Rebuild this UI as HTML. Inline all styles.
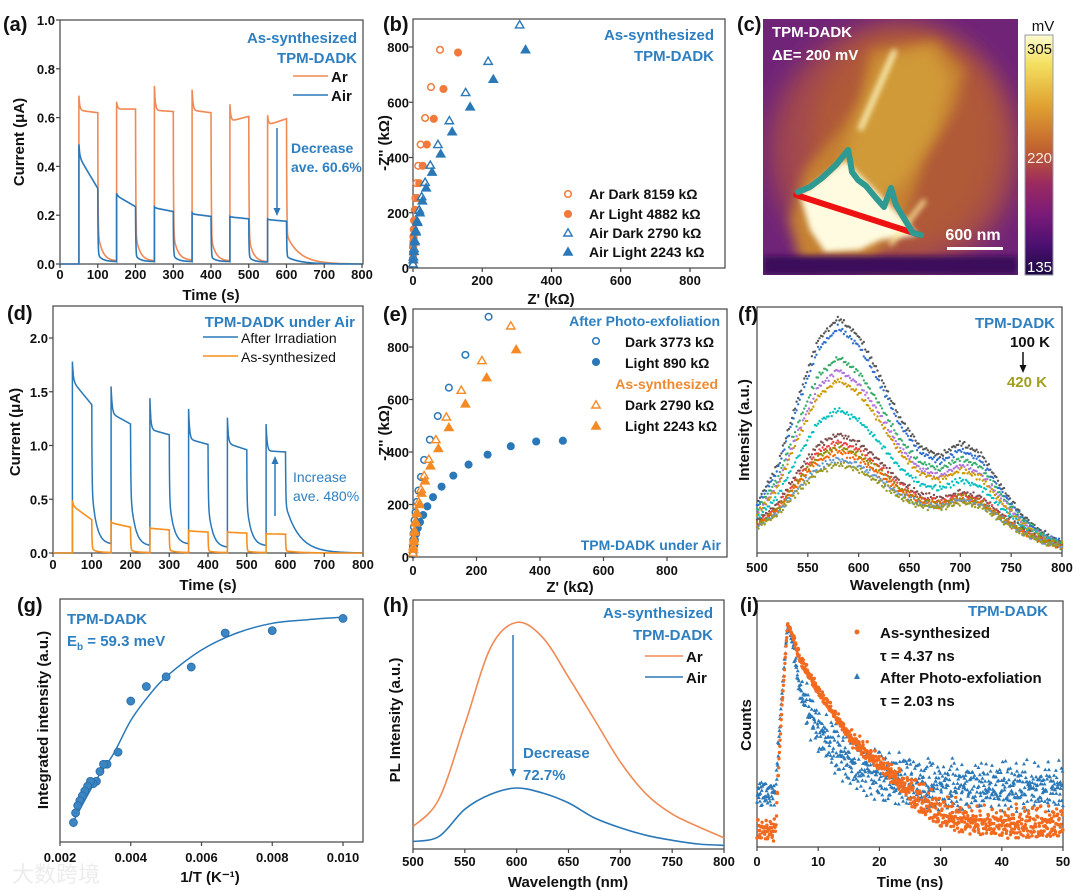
<!DOCTYPE html>
<html><head><meta charset="utf-8"><title>TPM-DADK figure</title>
<style>
html,body{margin:0;padding:0;background:#fff;}
svg{display:block;font-family:"Liberation Sans","Noto Sans CJK SC",sans-serif;font-weight:bold;}
</style></head>
<body>
<svg id="fig" width="1080" height="891" viewBox="0 0 1080 891" xmlns="http://www.w3.org/2000/svg">
<defs>
<linearGradient id="cbar" x1="0" y1="0" x2="0" y2="1">
<stop offset="0" stop-color="#fcfcd0"/><stop offset="0.12" stop-color="#f3e060"/><stop offset="0.3" stop-color="#dfa030"/><stop offset="0.48" stop-color="#c06030"/><stop offset="0.62" stop-color="#9a2a60"/><stop offset="0.75" stop-color="#7a1a78"/><stop offset="0.88" stop-color="#4a1070"/><stop offset="1" stop-color="#1a0840"/>
</linearGradient>
<filter id="blur6" x="-30%" y="-30%" width="160%" height="160%"><feGaussianBlur stdDeviation="6"/></filter>
<filter id="blur12" x="-40%" y="-40%" width="180%" height="180%"><feGaussianBlur stdDeviation="12"/></filter>
<filter id="blur3" x="-30%" y="-30%" width="160%" height="160%"><feGaussianBlur stdDeviation="3"/></filter>
<clipPath id="cimg"><rect x="763" y="19" width="255" height="256"/></clipPath>
</defs>
</svg>
<script>
// ---------- DATA ----------
// (a) photocurrent, as-synthesized
const aOnTimes=[50,150,250,350,450,550];
const aArPeak=[0.69,0.665,0.73,0.715,0.655,0.61];
const aArStart=[0.63,0.635,0.63,0.63,0.585,0.57];
const aArEnd=[0.62,0.635,0.625,0.62,0.605,0.595];
const aArDrop=[0.13,0.12,0.12,0.11,0.11,0.12];
const aArTail=[0.012,0.012,0.015,0.012,0.008,0.0];
const aAirPeak=[0.49,0.29,0.235,0.21,0.195,0.185];
const aAirStart=[0.44,0.28,0.23,0.205,0.193,0.182];
const aAirEnd=[0.31,0.235,0.215,0.195,0.185,0.175];
const aAirDrop=[0.04,0.035,0.035,0.03,0.03,0.03];
const aAirTail=[0.01,0.01,0.01,0.01,0.008,0.0];
const aXTicks=[0,100,200,300,400,500,600,700,800];
const aYTicks=[0,0.2,0.4,0.6,0.8,1.0];
// (d) photocurrent under air
const dOnTimes=[50,150,250,350,450,550];
const dIrrPeak=[1.78,1.55,1.44,1.34,1.26,1.2];
const dIrrStart=[1.6,1.3,1.15,1.06,1.02,0.95];
const dIrrEnd=[1.38,1.2,1.1,1.01,0.96,0.94];
const dIrrDrop=[0.6,0.55,0.5,0.45,0.45,0.45];
const dIrrTail=[0.08,0.065,0.08,0.05,0.065,0.0];
const dAsPeak=[0.49,0.29,0.235,0.21,0.195,0.18];
const dAsStart=[0.44,0.28,0.23,0.205,0.193,0.178];
const dAsEnd=[0.31,0.24,0.215,0.195,0.185,0.175];
const dAsDrop=[0.04,0.03,0.03,0.02,0.02,0.02];
const dAsTail=[0.005,0.005,0.005,0.005,0.005,0.0];
const dXTicks=[0,100,200,300,400,500,600,700,800];
const dYTicks=[0,0.5,1.0,1.5,2.0];
// (b) Nyquist as-synthesized
const bArDarkX=[78,52,35,22,15,10,7,5,3,2,1,1,0,0,0,0];
const bArDarkY=[790,655,543,447,370,307,253,210,172,140,115,95,75,55,35,15];
const bArLightX=[130,88,60,40,28,18,12,8,5,3,2,1,1,0];
const bArLightY=[780,648,540,447,370,307,253,210,172,140,110,80,50,20];
const bAirDarkX=[308,217,152,105,72,50,35,25,18,12,8,5,3,1,0];
const bAirDarkY=[880,748,635,533,447,372,310,258,210,170,135,100,70,40,15];
const bAirLightX=[325,232,165,113,80,55,38,27,20,13,8,5,3,1];
const bAirLightY=[790,683,583,493,413,347,290,243,200,165,130,95,60,30];
const zTicks=[0,200,400,600,800];
// (e) Nyquist under air
const ePhDarkX=[238,165,113,78,53,35,25,17,12,8,5,3,2,1,0,0];
const ePhDarkY=[915,770,645,537,447,370,305,253,210,170,140,115,90,65,40,15];
const ePhLightX=[472,388,308,235,175,127,90,63,45,32,22,15,10,6,4,2,1];
const ePhLightY=[443,440,422,390,352,310,268,228,193,160,133,110,88,65,45,25,10];
// (f) temperature-dependent PL
const fKnotsNm=[500,520,540,560,580,600,620,640,660,680,700,720,740,760,780,800];
const fShapeMain=[0.12,0.3,0.62,0.9,1.0,0.9,0.7,0.45,0.25,0.12,0.06,0.03,0.01,0,0,0];
const fShapeSide=[0,0,0,0,0.02,0.05,0.1,0.2,0.35,0.55,0.85,0.8,0.5,0.25,0.1,0.04];
const fShapeBase=[1,1,1,1,1,1,1,1,1,1,1,1,0.9,0.7,0.5,0.3];
const fMainAmp=[0.85,0.82,0.70,0.66,0.62,0.50,0.40,0.38,0.36,0.34,0.31,0.29];
const fSideAmp=[0.35,0.33,0.30,0.28,0.26,0.22,0.17,0.17,0.16,0.15,0.15,0.14];
const fBaseAmp=[0.10,0.09,0.09,0.08,0.08,0.08,0.08,0.07,0.07,0.07,0.07,0.07];
const fXTicks=[500,550,600,650,700,750,800];
// (g) integrated intensity vs 1/T
const gInvT=[0.0100,0.0080,0.00667,0.00571,0.00500,0.00444,0.00400,0.00364,0.00333,0.00323,0.00313,0.00303,0.00294,0.00286,0.00278,0.00270,0.00263,0.00256,0.00250,0.00244,0.00238];
const gIntensity=[0.92,0.87,0.86,0.72,0.68,0.64,0.58,0.37,0.32,0.32,0.29,0.25,0.24,0.25,0.23,0.21,0.19,0.17,0.15,0.12,0.08];
const gFitX=[0.0024,0.003,0.0035,0.004,0.0045,0.005,0.006,0.007,0.008,0.009,0.010];
const gFitY=[0.09,0.25,0.36,0.5,0.6,0.68,0.79,0.86,0.9,0.915,0.925];
const gXTicks=[0.002,0.004,0.006,0.008,0.010];
// (h) PL spectra
const hNm=[500,525,550,575,600,625,650,675,700,725,750,775,800];
const hAr=[0.09,0.2,0.5,0.81,0.91,0.85,0.69,0.52,0.35,0.22,0.14,0.09,0.045];
const hAir=[0.03,0.05,0.16,0.22,0.245,0.225,0.185,0.125,0.085,0.055,0.035,0.02,0.015];
const hXTicks=[500,550,600,650,700,750,800];
// (i) TRPL
const iTimeKnots=[0,3,4,5,6,7,10,15,20,25,30,35,40,50];
const iAsSynth=[0.08,0.08,0.54,0.91,0.85,0.77,0.64,0.46,0.35,0.24,0.15,0.12,0.11,0.11];
const iExfol=[0.22,0.22,0.6,0.91,0.81,0.64,0.48,0.35,0.29,0.27,0.25,0.25,0.25,0.25];
const iXTicks=[0,10,20,30,40,50];
const iJitter=[0.3,-0.7,0.9,-0.2,-0.95,0.55,0.1,-0.45,0.8,-0.85,0.25,0.65,-0.35,-0.6,0.95,-0.1,0.45,-0.75,0.05,0.7,-0.5,0.35,-0.25,0.85,-0.9,0.15,-0.3,0.6,-0.05,0.4,-0.8,0.2,0.75];
const iJitter2=[-0.4,0.8,0.1,-0.9,0.5,-0.2,0.95,-0.65,0.3,-0.1,0.7,-0.8,0.2,0.45,-0.55,0.05,-0.3,0.9,-0.7,0.6,-0.15,0.35,-0.95,0.15,0.65,-0.45,0.0,0.85,-0.25];

// ---------- HELPERS ----------
const NS='http://www.w3.org/2000/svg';
const svg=document.getElementById('fig');
const BLUE='#2e7fc0', ORANGE='#f07a3a', AIRLINE='#2a78b8', ARLINE='#f08a55', ORTXT='#f08a30';
function el(tag,attrs,name,parent){
  const e=document.createElementNS(NS,tag);
  for(const k in attrs) e.setAttribute(k,attrs[k]);
  
  
  (parent||svg).appendChild(e);
  return e;
}
function txt(x,y,s,name,opt){
  opt=opt||{};
  const e=el('text',{x:x,y:y,'font-size':opt.size||14,fill:opt.fill||'#111','text-anchor':opt.anchor||'start'},name,opt.parent);
  if(opt.rot) e.setAttribute('transform','rotate(-90 '+x+' '+y+')');
  if(opt.weight) e.setAttribute('font-weight',opt.weight);
  e.textContent=s;
  return e;
}
function frame(x0,y0,x1,y1,name){
  el('rect',{x:x0,y:y0,width:x1-x0,height:y1-y0,fill:'none',stroke:'#444','stroke-width':1.2},name);
}
function xTicks(ticks,sx,yb,labY,fmt,name){
  ticks.forEach(t=>{
    el('line',{x1:sx(t),x2:sx(t),y1:yb,y2:yb+4,stroke:'#444','stroke-width':1.2},name+'-tick');
    txt(sx(t),labY,fmt?fmt(t):String(t),name+'-label',{anchor:'middle',size:13});
  });
}
function yTicks(ticks,sy,xl,labX,fmt,name){
  ticks.forEach(t=>{
    el('line',{x1:xl-4,x2:xl,y1:sy(t),y2:sy(t),stroke:'#444','stroke-width':1.2},name+'-tick');
    txt(labX,sy(t)+5,fmt?fmt(t):String(t),name+'-label',{anchor:'end',size:13});
  });
}
function interp(xs,ys,x){
  if(x<=xs[0]) return ys[0];
  for(let i=1;i<xs.length;i++){ if(x<=xs[i]){ const f=(x-xs[i-1])/(xs[i]-xs[i-1]); return ys[i-1]+f*(ys[i]-ys[i-1]); } }
  return ys[ys.length-1];
}
function jit(k){ return 0.6*iJitter[k%iJitter.length]+0.6*iJitter2[(k*5+1)%iJitter2.length]; }
function smoothPath(pts){
  let d='M'+pts[0][0].toFixed(1)+','+pts[0][1].toFixed(1);
  for(let i=0;i<pts.length-1;i++){
    const p0=pts[i-1]||pts[i],p1=pts[i],p2=pts[i+1],p3=pts[i+2]||p2;
    const c1=[p1[0]+(p2[0]-p0[0])/6,p1[1]+(p2[1]-p0[1])/6],c2=[p2[0]-(p3[0]-p1[0])/6,p2[1]-(p3[1]-p1[1])/6];
    d+='C'+c1[0].toFixed(1)+','+c1[1].toFixed(1)+' '+c2[0].toFixed(1)+','+c2[1].toFixed(1)+' '+p2[0].toFixed(1)+','+p2[1].toFixed(1);
  }
  return d;
}
function photoValue(t,on,peak,start,end,drop,tail){
  let i=-1;
  for(let k=0;k<on.length;k++) if(t>=on[k]) i=k;
  if(i<0) return 0;
  const dt=t-on[i];
  if(dt<50) return start+(end-start)*dt/50+(peak-start)*Math.exp(-dt/2.5);
  const od=dt-50;
  const tau=(i===on.length-1)?35:12;
  return tail[i]+(end[i]-drop[i])*Math.exp(-od/0.8)+(drop[i]-tail[i])*Math.exp(-od/tau);
}
function photoPath(on,peak,start,end,drop,tail,sx,sy){
  let d='';
  for(let t=0;t<=800;t+=0.5){
    let i=-1; for(let k=0;k<on.length;k++) if(t>=on[k]) i=k;
    let v;
    if(i>=0 && t-on[i]<50) v=photoValue(t,on,peak[i],start[i],end[i],drop,tail);
    else v=photoValue(t,on,0,0,end,drop,tail);
    if(i>=0 && t===on[i]) d+='L'+sx(t).toFixed(1)+','+sy(i>0?tail[i-1]:0).toFixed(1);
    d+=(d?'L':'M')+sx(t).toFixed(1)+','+sy(v).toFixed(1);
  }
  return d;
}
function marker(type,x,y,color,filled,name){
  if(type==='c') el('circle',{cx:x,cy:y,r:3.3,fill:filled?color:'#fff',stroke:color,'stroke-width':1.5},name);
  else el('polygon',{points:(x)+','+(y-4.2)+' '+(x-4.2)+','+(y+3)+' '+(x+4.2)+','+(y+3),fill:filled?color:'#fff',stroke:color,'stroke-width':1.4},name);
}
function arrow(x,y1,y2,color,name){
  el('line',{x1:x,x2:x,y1:y1,y2:y2+(y2>y1?-6:6),stroke:color,'stroke-width':1.5},name);
  const s=y2>y1?-1:1;
  el('polygon',{points:x+','+y2+' '+(x-3.5)+','+(y2+s*8)+' '+(x+3.5)+','+(y2+s*8),fill:color},name+'-head');
}

// ---------- (a) ----------
(function(){
  const sx=t=>60+t*302/800, sy=v=>264-v*244;
  frame(60,20,363,264,'panel-a-frame');
  el('path',{d:photoPath(aOnTimes,aArPeak,aArStart,aArEnd,aArDrop,aArTail,sx,sy),fill:'none',stroke:ARLINE,'stroke-width':1.6},'ar-current-line');
  el('path',{d:photoPath(aOnTimes,aAirPeak,aAirStart,aAirEnd,aAirDrop,aAirTail,sx,sy),fill:'none',stroke:AIRLINE,'stroke-width':1.6},'air-current-line');
  xTicks(aXTicks,sx,264,279,null,'a-x');
  yTicks(aYTicks,sy,60,55,t=>t.toFixed(1),'a-y');
  txt(3,31,'(a)','panel-label-a',{size:20});
  txt(211,300,'Time (s)','a-x-title',{anchor:'middle',size:15});
  txt(24,142,'Current (μA)','a-y-title',{anchor:'middle',size:15,rot:true});
  txt(357,43,'As-synthesized','a-title-1',{anchor:'end',size:15,fill:BLUE});
  txt(357,63,'TPM-DADK','a-title-2',{anchor:'end',size:15,fill:BLUE});
  el('line',{x1:293,x2:328,y1:76,y2:76,stroke:ARLINE,'stroke-width':1.6},'legend-ar-line');
  txt(331,82,'Ar','legend-ar-text',{size:15});
  el('line',{x1:293,x2:328,y1:95,y2:95,stroke:AIRLINE,'stroke-width':1.6},'legend-air-line');
  txt(331,101,'Air','legend-air-text',{size:15});
  txt(291,153,'Decrease','a-annotation-1',{size:14,fill:BLUE});
  txt(291,172,'ave. 60.6%','a-annotation-2',{size:14,fill:BLUE});
  arrow(277,128,216,AIRLINE,'a-decrease-arrow');
})();

// ---------- (b) ----------
(function(){
  const sx=z=>413+z*277/800, sy=z=>268-z*221/800;
  frame(413,19,725,268,'panel-b-frame');
  bArDarkX.forEach((x,i)=>marker('c',sx(x),sy(bArDarkY[i]),ORANGE,false,'ar-dark-point'));
  bArLightX.forEach((x,i)=>marker('c',sx(x),sy(bArLightY[i]),ORANGE,true,'ar-light-point'));
  bAirDarkX.forEach((x,i)=>marker('t',sx(x),sy(bAirDarkY[i]),AIRLINE,false,'air-dark-point'));
  bAirLightX.forEach((x,i)=>marker('t',sx(x),sy(bAirLightY[i]),AIRLINE,true,'air-light-point'));
  xTicks(zTicks,sx,268,285,null,'b-x');
  yTicks(zTicks,sy,413,409,null,'b-y');
  txt(383,31,'(b)','panel-label-b',{size:20});
  txt(551,304,"Z' (kΩ)",'b-x-title',{anchor:'middle',size:15});
  txt(389,143,"-Z'' (kΩ)",'b-y-title',{anchor:'middle',size:15,rot:true});
  txt(714,40,'As-synthesized','b-title-1',{anchor:'end',size:15,fill:BLUE});
  txt(714,61,'TPM-DADK','b-title-2',{anchor:'end',size:15,fill:BLUE});
  const lg=[['c',ORANGE,false,'Ar Dark 8159 kΩ',199],['c',ORANGE,true,'Ar Light 4882 kΩ',219],['t',AIRLINE,false,'Air Dark 2790 kΩ',238],['t',AIRLINE,true,'Air Light 2243 kΩ',257]];
  lg.forEach(l=>{marker(l[0],568,l[4]-5,l[1],l[2],'b-legend-marker');txt(589,l[4],l[3],'b-legend-text',{size:14});});
})();

// ---------- (c) ----------
(function(){
  txt(737,31,'(c)','panel-label-c',{size:20});
  const g=el('g',{'clip-path':'url(#cimg)'},'kpfm-image');
  el('rect',{x:763,y:19,width:255,height:256,fill:'#702478'},'kpfm-background',g);
  el('ellipse',{cx:895,cy:150,rx:125,ry:125,fill:'#a04650',filter:'url(#blur12)'},'kpfm-halo',g);
  el('ellipse',{cx:905,cy:140,rx:95,ry:110,fill:'#b05a38',filter:'url(#blur12)'},'kpfm-halo-inner',g);
  el('polygon',{points:'870,50 935,40 965,70 955,110 925,160 915,190 900,230 870,260 800,262 790,220 805,170 840,130 860,100',fill:'#c68232',filter:'url(#blur6)'},'kpfm-flake',g);
  el('polygon',{points:'880,60 930,48 950,80 935,130 905,180 880,200 840,170 860,110',fill:'#d09a38',filter:'url(#blur6)'},'kpfm-flake-upper',g);
  el('polygon',{points:'800,195 845,160 880,195 905,220 918,235 880,240 860,250 825,252 810,230',fill:'#fffbe0',filter:'url(#blur3)'},'kpfm-bright-region',g);
  el('line',{x1:895,y1:50,x2:860,y2:130,stroke:'#fff6c0','stroke-width':5,filter:'url(#blur3)'},'kpfm-bright-edge',g);
  el('line',{x1:890,y1:245,x2:925,y2:200,stroke:'#fff0a0','stroke-width':4,filter:'url(#blur3)'},'kpfm-bright-edge-2',g);
  el('rect',{x:763,y:256,width:255,height:19,fill:'#3a0f5a',filter:'url(#blur3)'},'kpfm-bottom-band',g);
  el('line',{x1:796,y1:195,x2:920,y2:235,stroke:'#ee1111','stroke-width':6,'stroke-linecap':'round'},'line-profile-red',g);
  el('polyline',{points:'798,192 810,187 822,178 836,165 848,150 850,160 852,172 858,180 866,186 876,198 884,207 891,188 896,205 905,220 913,233 921,235',fill:'none',stroke:'#2e9a92','stroke-width':6,'stroke-linejoin':'round','stroke-linecap':'round'},'surface-profile-teal',g);
  txt(772,37,'TPM-DADK','c-title',{size:15,fill:'#fff'});
  txt(772,60,'ΔE= 200 mV','c-energy',{size:15,fill:'#fff'});
  txt(973,240,'600 nm','scale-bar-label',{size:16,fill:'#fff',anchor:'middle'});
  el('rect',{x:947,y:247,width:56,height:3,fill:'#fff'},'scale-bar');
  el('rect',{x:1025,y:35,width:28,height:240,fill:'url(#cbar)',stroke:'#99a','stroke-width':1},'colorbar');
  txt(1043,31,'mV','colorbar-unit',{size:15,anchor:'middle',weight:'normal'});
  txt(1027,54,'305','colorbar-max',{size:15,weight:'normal'});
  txt(1027,163,'220','colorbar-mid',{size:15,weight:'normal',fill:'#f4e8e0'});
  txt(1027,272,'135','colorbar-min',{size:15,weight:'normal',fill:'#fff'});
})();

// ---------- (d) ----------
(function(){
  const sx=t=>53+t*310/800, sy=v=>553-v*107.5;
  frame(53,306,363,553,'panel-d-frame');
  el('path',{d:photoPath(dOnTimes,dIrrPeak,dIrrStart,dIrrEnd,dIrrDrop,dIrrTail,sx,sy),fill:'none',stroke:AIRLINE,'stroke-width':1.5},'after-irradiation-line');
  el('path',{d:photoPath(dOnTimes,dAsPeak,dAsStart,dAsEnd,dAsDrop,dAsTail,sx,sy),fill:'none',stroke:'#f59020','stroke-width':1.6},'as-synthesized-line');
  xTicks(dXTicks,sx,553,569,null,'d-x');
  yTicks(dYTicks,sy,53,48,t=>t.toFixed(1),'d-y');
  txt(7,320,'(d)','panel-label-d',{size:20});
  txt(208,590,'Time (s)','d-x-title',{anchor:'middle',size:15});
  txt(20,432,'Current (μA)','d-y-title',{anchor:'middle',size:15,rot:true});
  txt(355,327,'TPM-DADK under Air','d-title',{anchor:'end',size:15,fill:BLUE});
  el('line',{x1:203,x2:238,y1:337,y2:337,stroke:AIRLINE,'stroke-width':1.6},'legend-irradiation-line');
  txt(241,343,'After Irradiation','legend-irradiation-text',{size:14,weight:'normal'});
  el('line',{x1:203,x2:238,y1:356,y2:356,stroke:'#f59020','stroke-width':1.6},'legend-as-synth-line');
  txt(241,362,'As-synthesized','legend-as-synth-text',{size:14,weight:'normal'});
  txt(293,482,'Increase','d-annotation-1',{size:14,fill:BLUE,weight:'normal'});
  txt(293,501,'ave. 480%','d-annotation-2',{size:14,fill:BLUE,weight:'normal'});
  arrow(275,516,456,AIRLINE,'d-increase-arrow');
})();

// ---------- (e) ----------
(function(){
  const sx=z=>413+z*254/800, sy=z=>557-z*210/800;
  frame(413,309,727,557,'panel-e-frame');
  ePhDarkX.forEach((x,i)=>marker('c',sx(x),sy(ePhDarkY[i]),AIRLINE,false,'exfol-dark-point'));
  ePhLightX.forEach((x,i)=>marker('c',sx(x),sy(ePhLightY[i]),AIRLINE,true,'exfol-light-point'));
  bAirDarkX.forEach((x,i)=>marker('t',sx(x),sy(bAirDarkY[i]),'#f58a25',false,'as-synth-dark-point'));
  bAirLightX.forEach((x,i)=>marker('t',sx(x),sy(bAirLightY[i]),'#f58a25',true,'as-synth-light-point'));
  xTicks(zTicks,sx,557,575,null,'e-x');
  yTicks(zTicks,sy,413,409,null,'e-y');
  txt(383,321,'(e)','panel-label-e',{size:20});
  txt(570,592,"Z' (kΩ)",'e-x-title',{anchor:'middle',size:15});
  txt(389,433,"-Z'' (kΩ)",'e-y-title',{anchor:'middle',size:15,rot:true});
  txt(720,326,'After Photo-exfoliation','e-legend-group-1',{anchor:'end',size:14,fill:BLUE});
  marker('c',596,341,AIRLINE,false,'e-legend-marker');
  txt(625,347,'Dark 3773 kΩ','e-legend-text',{size:14});
  marker('c',596,362,AIRLINE,true,'e-legend-marker');
  txt(625,368,'Light 890 kΩ','e-legend-text',{size:14});
  txt(718,389,'As-synthesized','e-legend-group-2',{anchor:'end',size:14,fill:ORTXT});
  marker('t',596,405,'#f58a25',false,'e-legend-marker');
  txt(625,410,'Dark 2790 kΩ','e-legend-text',{size:14});
  marker('t',596,426,'#f58a25',true,'e-legend-marker');
  txt(625,431,'Light 2243 kΩ','e-legend-text',{size:14});
  txt(721,550,'TPM-DADK under Air','e-title',{anchor:'end',size:14,fill:BLUE});
})();

// ---------- (f) ----------
(function(){
  const sx=w=>757+(w-500)*305/300, sy=v=>553-v*246;
  frame(757,307,1062,553,'panel-f-frame');
  const cols=['#555555','#2e6fd0','#37ad6b','#b177de','#cc9900','#00c0c0','#7d4e4e','#f14040','#8e8e00','#fb6501','#6699cc','#9a9a20'];
  fMainAmp.forEach((a,k)=>{
    const g=el('g',{fill:cols[k]},'pl-spectrum-'+k);
    let n=0;
    for(let w=500;w<=800;w+=1.5){
      const v=a*interp(fKnotsNm,fShapeMain,w)+fSideAmp[k]*interp(fKnotsNm,fShapeSide,w)+fBaseAmp[k]*interp(fKnotsNm,fShapeBase,w);
      el('circle',{cx:sx(w).toFixed(1),cy:(sy(v)+jit(n+k*17)*3).toFixed(1),r:1.2},'pl-point',g);
      n++;
    }
  });
  xTicks(fXTicks,sx,553,572,null,'f-x');
  txt(738,321,'(f)','panel-label-f',{size:20});
  txt(910,590,'Wavelength (nm)','f-x-title',{anchor:'middle',size:15});
  txt(749,430,'Intensity (a.u.)','f-y-title',{anchor:'middle',size:15,rot:true});
  txt(1055,328,'TPM-DADK','f-title',{anchor:'end',size:15,fill:BLUE});
  txt(1050,347,'100 K','f-temp-high',{anchor:'end',size:15});
  arrow(1023,352,373,'#111','f-temp-arrow');
  txt(1047,387,'420 K','f-temp-low',{anchor:'end',size:15,fill:'#a0a020'});
})();

// ---------- (g) ----------
(function(){
  const sx=v=>60+(v-0.002)*283/0.008, sy=v=>842-v*243;
  frame(60,599,363,842,'panel-g-frame');
  el('path',{d:smoothPath(gFitX.map((x,i)=>[sx(x),sy(gFitY[i])])),fill:'none',stroke:AIRLINE,'stroke-width':1.5},'arrhenius-fit-line');
  gInvT.forEach((x,i)=>el('circle',{cx:sx(x),cy:sy(gIntensity[i]),r:4,fill:'#3a86c4',stroke:'#2a6aa0','stroke-width':0.8},'integrated-intensity-point'));
  xTicks(gXTicks,sx,842,862,t=>t.toFixed(3),'g-x');
  txt(17,612,'(g)','panel-label-g',{size:20});
  txt(210,882,'1/T (K⁻¹)','g-x-title',{anchor:'middle',size:15});
  txt(48,720,'Integrated intensity (a.u.)','g-y-title',{anchor:'middle',size:15,rot:true});
  txt(67,624,'TPM-DADK','g-title',{size:15,fill:BLUE});
  const e=txt(67,646,'E','g-binding-energy',{size:15,fill:BLUE});
  const s1=document.createElementNS(NS,'tspan');s1.setAttribute('font-size','10');s1.setAttribute('dy','4');s1.textContent='b';e.appendChild(s1);
  const s2=document.createElementNS(NS,'tspan');s2.setAttribute('dy','-4');s2.textContent=' = 59.3 meV';e.appendChild(s2);
  txt(12,882,'大数跨境','watermark',{size:22,fill:'#ececec',weight:'normal'});
})();

// ---------- (h) ----------
(function(){
  const sx=w=>413+(w-500)*311/300, sy=v=>849-v*249;
  frame(413,600,724,849,'panel-h-frame');
  el('path',{d:smoothPath(hNm.map((w,i)=>[sx(w),sy(hAr[i])])),fill:'none',stroke:ARLINE,'stroke-width':1.6},'pl-ar-line');
  el('path',{d:smoothPath(hNm.map((w,i)=>[sx(w),sy(hAir[i])])),fill:'none',stroke:AIRLINE,'stroke-width':1.6},'pl-air-line');
  xTicks(hXTicks,sx,849,866,null,'h-x');
  txt(383,612,'(h)','panel-label-h',{size:20});
  txt(568,887,'Wavelength (nm)','h-x-title',{anchor:'middle',size:15});
  txt(400,720,'PL Intensity (a.u.)','h-y-title',{anchor:'middle',size:15,rot:true});
  txt(713,618,'As-synthesized','h-title-1',{anchor:'end',size:15,fill:BLUE});
  txt(713,640,'TPM-DADK','h-title-2',{anchor:'end',size:15,fill:BLUE});
  el('line',{x1:645,x2:683,y1:656,y2:656,stroke:ARLINE,'stroke-width':1.6},'h-legend-ar-line');
  txt(686,662,'Ar','h-legend-ar-text',{size:15});
  el('line',{x1:645,x2:683,y1:677,y2:677,stroke:AIRLINE,'stroke-width':1.6},'h-legend-air-line');
  txt(686,683,'Air','h-legend-air-text',{size:15});
  arrow(513,635,777,AIRLINE,'h-decrease-arrow');
  txt(523,758,'Decrease','h-annotation-1',{size:15,fill:BLUE});
  txt(523,780,'72.7%','h-annotation-2',{size:15,fill:BLUE});
})();

// ---------- (i) ----------
(function(){
  const sx=t=>757+t*306/50, sy=v=>847-v*246;
  frame(757,601,1063,847,'panel-i-frame');
  const gb=el('g',{fill:'#2a78b8'},'exfoliated-decay-points');
  const go=el('g',{fill:'#f26a1e'},'as-synth-decay-points');
  let k=0;
  for(let t=0;t<=50;t+=0.06){
    const vb=interp(iTimeKnots,iExfol,t), sp=(t<3.5||t>6)?(t>8?24:14):3;
    const yb=Math.min(846,sy(vb)+jit(k)*sp);
    const x=sx(t), y=yb;
    el('polygon',{points:x+','+(y-2)+' '+(x-2)+','+(y+1.5)+' '+(x+2)+','+(y+1.5)},'exfol-point',gb);
    k++;
  }
  k=0;
  for(let t=0;t<=50;t+=0.06){
    const vo=interp(iTimeKnots,iAsSynth,t), sp=t<3.5?12:(t<6?2:(t<15?5:(t<25?10:16)));
    const yo=Math.min(846,sy(vo)+jit(k*3+11)*sp);
    el('circle',{cx:sx(t).toFixed(1),cy:yo.toFixed(1),r:1.7},'as-synth-point',go);
    k++;
  }
  xTicks(iXTicks,sx,847,866,null,'i-x');
  txt(740,612,'(i)','panel-label-i',{size:20});
  txt(910,887,'Time (ns)','i-x-title',{anchor:'middle',size:15});
  txt(751,725,'Counts','i-y-title',{anchor:'middle',size:15,rot:true});
  txt(1048,616,'TPM-DADK','i-title',{anchor:'end',size:15,fill:BLUE});
  el('circle',{cx:857,cy:632,r:2.5,fill:'#f26a1e'},'i-legend-as-synth-marker');
  txt(880,638,'As-synthesized','i-legend-as-synth-text',{size:15});
  txt(880,661,'τ = 4.37 ns','i-lifetime-as-synth',{size:15});
  el('polygon',{points:'857,673 854,679 860,679',fill:'#2a78b8'},'i-legend-exfol-marker');
  txt(880,683,'After Photo-exfoliation','i-legend-exfol-text',{size:15});
  txt(880,706,'τ = 2.03 ns','i-lifetime-exfol',{size:15});
})();
</script>
</body></html>
